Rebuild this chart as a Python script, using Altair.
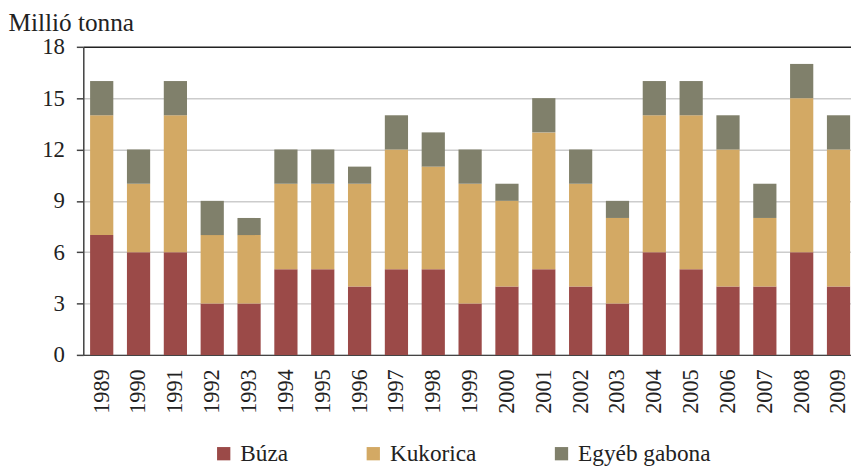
import altair as alt
import pandas as pd

years = [str(y) for y in range(1989, 2010)]
buza = [7, 6, 6, 3, 3, 5, 5, 4, 5, 5, 3, 4, 5, 4, 3, 6, 5, 4, 4, 6, 4]
kukorica = [7, 4, 8, 4, 4, 5, 5, 6, 7, 6, 7, 5, 8, 6, 5, 8, 9, 8, 4, 9, 8]
egyeb = [2, 2, 2, 2, 1, 2, 2, 1, 2, 2, 2, 1, 2, 2, 1, 2, 2, 2, 2, 2, 2]
series = ["Búza", "Kukorica", "Egyéb gabona"]
colors = ["#9B4A48", "#D3A964", "#80806B"]
y_ticks = [0, 3, 6, 9, 12, 15, 18]

rows = []
for i, yr in enumerate(years):
    for k, (name, vals) in enumerate(zip(series, [buza, kukorica, egyeb])):
        rows.append({"year": yr, "series": name, "value": vals[i], "ord": k})
df = pd.DataFrame(rows)

font = "Times New Roman, Liberation Serif, Tinos, Times, serif"

bars = alt.Chart(df).mark_bar().encode(
    x=alt.X(
        "year:N",
        sort=years,
        scale=alt.Scale(range=[0, 781], paddingInner=0.37, paddingOuter=0.185),
        axis=alt.Axis(
            title=None,
            labelAngle=270,
            labelFontSize=22.5,
            labelFont=font,
            labelColor="#222",
            labelPadding=14,
            ticks=False,
            domainColor="#444",
            domainWidth=1.5,
        ),
    ),
    y=alt.Y(
        "value:Q",
        stack="zero",
        scale=alt.Scale(domain=[0, 18], nice=False),
        axis=alt.Axis(
            values=y_ticks,
            title="Millió tonna",
            titleAngle=0,
            titleAlign="left",
            titleBaseline="alphabetic",
            titleX=-76,
            titleY=-16,
            titleFont=font,
            titleFontSize=25.5,
            titleFontWeight="normal",
            titleColor="#222",
            labelFont=font,
            labelFontSize=23,
            labelColor="#222",
            labelPadding=12,
            tickSize=7,
            tickColor="#444",
            tickWidth=1.5,
            domainColor="#444",
            domainWidth=1.5,
            gridColor={"condition": {"test": "datum.value === 18", "value": "#222"}, "value": "#cccccc"},
            gridWidth=1.5,
        ),
    ),
    color=alt.Color(
        "series:N",
        scale=alt.Scale(domain=series, range=colors),
        legend=alt.Legend(
            title=None,
            orient="none",
            legendX=130,
            legendY=399,
            direction="horizontal",
            gridAlign="none",
            symbolType="square",
            symbolSize=180,
            symbolStrokeWidth=0,
            labelFont=font,
            labelFontSize=23.5,
            labelColor="#222",
            labelOffset=5,
            columnPadding=74,
        ),
    ),
    order=alt.Order("ord:Q"),
)

chart = bars.properties(
    width=775,
    height=311,
    autosize=alt.AutoSizeParams(type="none"),
    padding={"left": 76, "top": 37, "right": 0, "bottom": 111},
).configure_view(stroke=None).configure(background="white", font=font)

chart.save("out.html", embed_options={"renderer": "svg", "actions": False})
